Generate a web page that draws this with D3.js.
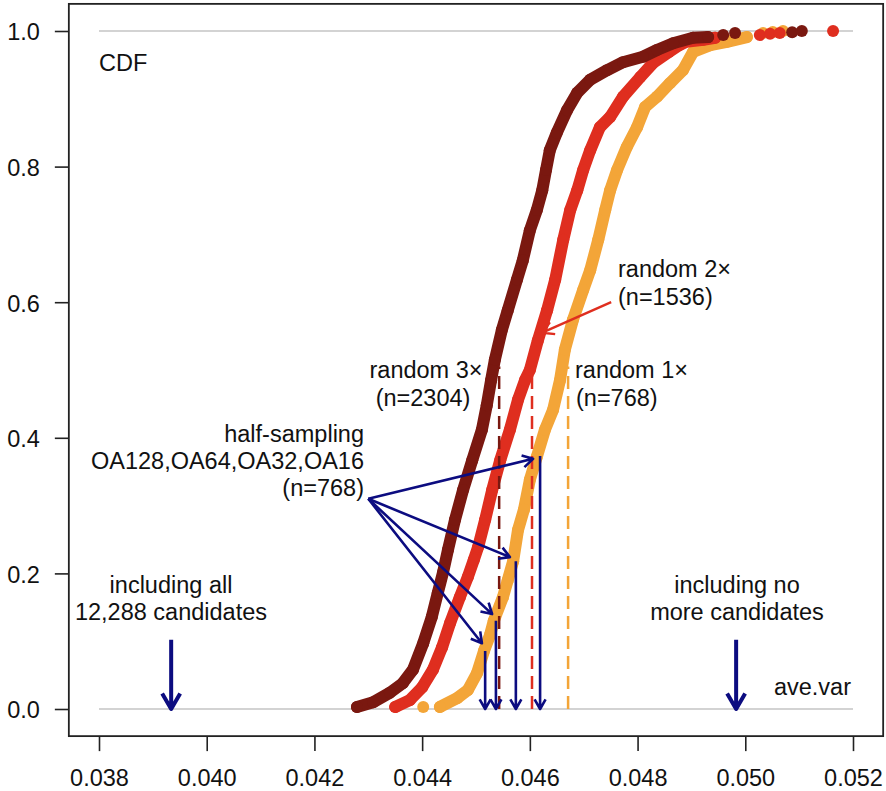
<!DOCTYPE html>
<html>
<head>
<meta charset="utf-8">
<script src="https://cdn.jsdelivr.net/npm/d3@7"></script>
<style>
body { margin: 0; background: #fff; }
text { font-family: "Liberation Sans", Arial, Helvetica, sans-serif; fill: #111; }
</style>
</head>
<body>
<div id="chart"></div>
<script>
// Parameters
var width  = 886,
    height = 791,
    fontSize = 23.5;

var xTicks = [0.038, 0.040, 0.042, 0.044, 0.046, 0.048, 0.050, 0.052];
var yTicks = [0.0, 0.2, 0.4, 0.6, 0.8, 1.0];

// ECDF of ave.var as [ave.var, CDF]
var random3 = [[0.04279,0.003],[0.04309,0.010],[0.04340,0.024],[0.04364,0.038],[0.04383,0.058],
  [0.04402,0.097],[0.04418,0.136],[0.04429,0.171],[0.04439,0.202],[0.04448,0.235],[0.04461,0.279],
  [0.04476,0.323],[0.04493,0.367],[0.04511,0.412],[0.04520,0.448],[0.04528,0.485],[0.04535,0.515],
  [0.04548,0.559],[0.04559,0.588],[0.04576,0.633],[0.04587,0.662],[0.04600,0.706],[0.04613,0.736],
  [0.04623,0.765],[0.04630,0.795],[0.04637,0.824],[0.04650,0.850],[0.04669,0.883],[0.04688,0.909],
  [0.04712,0.928],[0.04743,0.942],[0.04773,0.954],[0.04810,0.962],[0.04836,0.972],[0.04866,0.982],
  [0.04903,0.990],[0.04931,0.991]];
var random3Tail = [[0.04959,0.994],[0.04981,0.997],[0.05087,0.998],[0.05105,1.0]];

var random2 = [[0.04350,0.003],[0.04377,0.013],[0.04400,0.032],[0.04420,0.058],[0.04437,0.091],
  [0.04452,0.127],[0.04470,0.165],[0.04485,0.195],[0.04496,0.220],[0.04504,0.239],[0.04517,0.279],
  [0.04530,0.323],[0.04545,0.367],[0.04563,0.412],[0.04578,0.456],[0.04591,0.485],[0.04600,0.500],
  [0.04615,0.544],[0.04632,0.588],[0.04647,0.633],[0.04662,0.692],[0.04675,0.736],[0.04688,0.765],
  [0.04699,0.795],[0.04712,0.824],[0.04730,0.858],[0.04749,0.873],[0.04773,0.903],[0.04805,0.932],
  [0.04829,0.953],[0.04858,0.969],[0.04877,0.979],[0.04890,0.984],[0.04922,0.987],[0.04944,0.990]];
var random2Tail = [[0.05027,0.994],[0.05046,0.996],[0.05064,0.997],[0.05163,1.0]];

var random1 = [[0.04433,0.003],[0.04465,0.016],[0.04485,0.028],[0.04502,0.053],[0.04515,0.086],
  [0.04526,0.109],[0.04533,0.130],[0.04550,0.165],[0.04559,0.190],[0.04569,0.218],[0.04578,0.264],
  [0.04589,0.294],[0.04600,0.338],[0.04613,0.372],[0.04628,0.412],[0.04643,0.441],[0.04656,0.485],
  [0.04665,0.530],[0.04680,0.574],[0.04699,0.618],[0.04712,0.647],[0.04727,0.692],[0.04740,0.736],
  [0.04749,0.765],[0.04762,0.795],[0.04780,0.829],[0.04799,0.858],[0.04814,0.888],[0.04836,0.903],
  [0.04860,0.923],[0.04884,0.942],[0.04903,0.969],[0.04935,0.979],[0.04966,0.984],[0.05003,0.991]];
var random1Tail = [[0.04402,0.003],[0.05033,0.997],[0.05051,0.9985],[0.05070,1.0]];

// medians of random 3x, 2x, 1x (dashed)
var medians = [0.04543, 0.04604, 0.04671];
var medianTop = 0.505;

// half-sampling OA128, OA64, OA32, OA16 on the random 1x curve
var halfSampling = [[0.04517,0.0855],[0.04537,0.130],[0.04574,0.218],[0.04619,0.373]];
var halfTargets  = [[0.04511,0.097],[0.04530,0.140],[0.04563,0.224],[0.04606,0.369]];
var halfOrigin   = [0.04300, 0.310];

var random2Arrow = [[0.04751,0.600],[0.04623,0.555]];
var allCandidates = 0.03934,
    noMoreCandidates = 0.04983,
    bigArrowTop = 0.102;

var colDark = "#7a1810", colRed = "#df2e1f", colOrange = "#f3a538", colNavy = "#0c0c80";

var svg = d3.select("#chart")
    .append("svg")
    .attr("width", width)
    .attr("height", height);

var x = d3.scaleLinear().domain([0.038, 0.052]).range([99, 853]);
var y = d3.scaleLinear().domain([0, 1]).range([709, 31]);

// plot box, R style (4% padding)
var bx0 = x(0.038 - 0.014 * 0.04), bx1 = x(0.052 + 0.014 * 0.04),
    by0 = y(1.04), by1 = y(-0.04);

// grid lines at 0 and 1
svg.selectAll(".ref")
    .data([0, 1])
    .enter().append("line")
    .attr("x1", x(0.038)).attr("x2", x(0.052))
    .attr("y1", d => y(d)).attr("y2", d => y(d))
    .attr("stroke", "#c4c4c4").attr("stroke-width", 1.5);

// axes
var xAxis = d3.axisBottom(x).tickValues(xTicks).tickFormat(d3.format(".3f"))
    .tickSize(15).tickPadding(18);
var gx = svg.append("g").attr("transform", "translate(0," + by1 + ")").call(xAxis);
var yAxis = d3.axisLeft(y).tickValues(yTicks).tickFormat(d3.format(".1f"))
    .tickSize(14).tickPadding(15);
var gy = svg.append("g").attr("transform", "translate(" + bx0 + ",0)").call(yAxis);
[gx, gy].forEach(function(g) {
    g.select(".domain").remove();
    g.selectAll(".tick line").attr("stroke", "#222").attr("stroke-width", 1.6);
    g.selectAll(".tick text").attr("font-size", fontSize).attr("fill", "#111")
        .style("font-family", "'Liberation Sans', Arial, sans-serif");
});
gy.selectAll(".tick text").attr("dy", "0.38em");

// ECDF curves: orange first, dark on top
var series = [
    {pts: random1, tail: random1Tail, color: colOrange},
    {pts: random2, tail: random2Tail, color: colRed},
    {pts: random3, tail: random3Tail, color: colDark}
];
var line = d3.line().x(d => x(d[0])).y(d => y(d[1]));

series.forEach(function(s) {
    var g = svg.append("g");
    g.append("path")
        .attr("d", line(s.pts))
        .attr("fill", "none")
        .attr("stroke", s.color)
        .attr("stroke-width", 12)
        .attr("stroke-linecap", "round")
        .attr("stroke-linejoin", "round");
    g.selectAll("circle")
        .data(s.pts.concat(s.tail))
        .enter().append("circle")
        .attr("cx", d => x(d[0]))
        .attr("cy", d => y(d[1]))
        .attr("r", 6)
        .attr("fill", s.color);
});

// dashed medians
svg.selectAll(".median")
    .data(medians)
    .enter().append("line")
    .attr("x1", d => x(d)).attr("x2", d => x(d))
    .attr("y1", y(0)).attr("y2", y(medianTop))
    .attr("stroke", (d, i) => [colDark, colRed, colOrange][i])
    .attr("stroke-width", 2.5)
    .attr("stroke-dasharray", "13,7");

// R-like open arrow
function arrow(x0, y0, x1, y1, len, color, lw) {
    var a = Math.atan2(y1 - y0, x1 - x0),
        a1 = a + Math.PI - Math.PI / 6,
        a2 = a + Math.PI + Math.PI / 6;
    var p = d3.path();
    p.moveTo(x0, y0);
    p.lineTo(x1, y1);
    p.moveTo(x1 + len * Math.cos(a1), y1 + len * Math.sin(a1));
    p.lineTo(x1, y1);
    p.lineTo(x1 + len * Math.cos(a2), y1 + len * Math.sin(a2));
    svg.append("path")
        .attr("d", p.toString())
        .attr("fill", "none")
        .attr("stroke", color)
        .attr("stroke-width", lw)
        .attr("stroke-linejoin", "round");
}

halfSampling.forEach(function(d) {
    arrow(x(d[0]), y(d[1]), x(d[0]), y(0), 11, colNavy, 2.6);
});
halfTargets.forEach(function(d) {
    arrow(x(halfOrigin[0]), y(halfOrigin[1]), x(d[0]), y(d[1]), 12, colNavy, 2.6);
});
arrow(x(random2Arrow[0][0]), y(random2Arrow[0][1]), x(random2Arrow[1][0]), y(random2Arrow[1][1]), 13, colRed, 2.4);
[allCandidates, noMoreCandidates].forEach(function(v) {
    arrow(x(v), y(bigArrowTop), x(v), y(0), 18, colNavy, 4);
});

// labels
var labels = [
    {t: "CDF", x: 99, y: 71, a: "start"},
    {t: "ave.var", x: 851, y: 695, a: "end"},
    {t: "random 2\u00d7", x: 618, y: 277, a: "start"},
    {t: "(n=1536)", x: 618, y: 305, a: "start"},
    {t: "random 3\u00d7", x: 426, y: 378, a: "middle"},
    {t: "(n=2304)", x: 423, y: 406, a: "middle"},
    {t: "random 1\u00d7", x: 575, y: 378, a: "start"},
    {t: "(n=768)", x: 576, y: 406, a: "start"},
    {t: "half-sampling", x: 364, y: 442, a: "end"},
    {t: "OA128,OA64,OA32,OA16", x: 364, y: 469, a: "end"},
    {t: "(n=768)", x: 364, y: 496, a: "end"},
    {t: "including all", x: 171, y: 593, a: "middle"},
    {t: "12,288 candidates", x: 171, y: 620, a: "middle"},
    {t: "including no", x: 737, y: 593, a: "middle"},
    {t: "more candidates", x: 737, y: 620, a: "middle"}
];
svg.selectAll(".label")
    .data(labels)
    .enter().append("text")
    .attr("x", d => d.x)
    .attr("y", d => d.y)
    .attr("text-anchor", d => d.a)
    .attr("font-size", fontSize)
    .text(d => d.t);

// box
svg.append("rect")
    .attr("x", bx0).attr("y", by0)
    .attr("width", bx1 - bx0).attr("height", by1 - by0)
    .attr("fill", "none")
    .attr("stroke", "#222")
    .attr("stroke-width", 1.8);
</script>
</body>
</html>
